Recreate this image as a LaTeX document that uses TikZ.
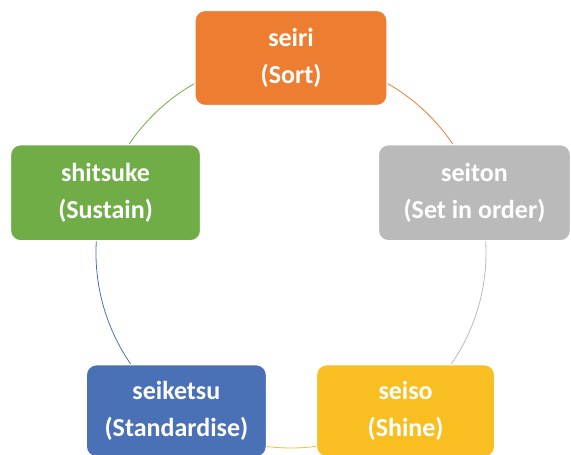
\documentclass[tikz,border=0pt]{standalone}
\usepackage{fontspec}
\setmainfont{Carlito}
\usetikzlibrary{backgrounds,calc}
\definecolor{cOrange}{HTML}{ED7D31}
\definecolor{cGray}{HTML}{BABABA}
\definecolor{cYellow}{HTML}{F9BE21}
\definecolor{cBlue}{HTML}{4A70B6}
\definecolor{cGreen}{HTML}{70AD47}
\tikzset{
  box/.style={draw=white, line width=1.2pt, rounded corners=10pt, text=white,
    align=center, inner sep=0pt,
    font=\fontsize{26}{37}\selectfont\bfseries},
  link/.style={line width=0.8pt},
}
\begin{document}
\begin{tikzpicture}[x=1pt,y=1pt]
\useasboundingbox (0,0) rectangle (571,455);
\clip (0,0) rectangle (571,455);
\coordinate (c) at (291,202);
\node[box, fill=cOrange, minimum width=192pt, minimum height=95pt] (seiri) at ($(c)+(90:195)$) {seiri\\(Sort)};
\node[box, fill=cGray, minimum width=192pt, minimum height=96pt] (seiton) at ($(c)+(18:195)+(-2,0)$) {seiton\\(Set in order)};
\node[box, fill=cYellow, minimum width=178pt, minimum height=92pt] (seiso) at ($(c)+(-54:195)$) {seiso\\(Shine)};
\node[box, fill=cBlue, minimum width=180pt, minimum height=92pt] (seiketsu) at ($(c)+(-126:195)$) {seiketsu\\(Standardise)};
\node[box, fill=cGreen, minimum width=190pt, minimum height=96pt] (shitsuke) at ($(c)+(162:195)$) {shitsuke\\(Sustain)};
\begin{pgfonlayer}{background}
\draw[link, cOrange] (seiri.center) arc[start angle=90, end angle=18, radius=195];
\draw[link, cGray] ($(c)+(18:195)$) coordinate (p2) (seiton.center -| p2) arc[start angle=18, end angle=-54, radius=195];
\draw[link, cYellow] (seiso.center) arc[start angle=-54, end angle=-126, radius=195];
\draw[link, cBlue] (seiketsu.center) arc[start angle=-126, end angle=-198, radius=195];
\draw[link, cGreen] (shitsuke.center) arc[start angle=162, end angle=90, radius=195];
\end{pgfonlayer}
\end{tikzpicture}
\end{document}
